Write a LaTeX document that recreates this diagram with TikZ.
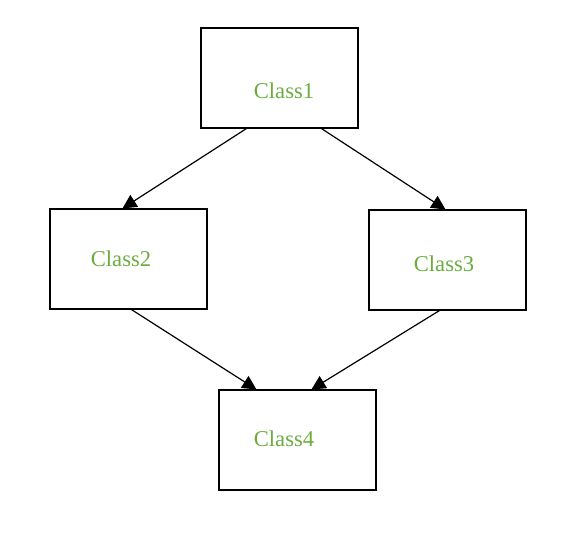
\documentclass[tikz,border=0pt]{standalone}
\usepackage{fontspec}
\setmainfont{Liberation Serif}
\usetikzlibrary{arrows.meta,calc}
\definecolor{lbl}{RGB}{106,173,62}
\begin{document}
\begin{tikzpicture}[x=1pt,y=-1pt,
  cls/.style={draw,line width=1.1pt,minimum width=157pt,minimum height=100pt,inner sep=0pt},
  lab/.style={text=lbl,font=\fontsize{22.6}{26}\selectfont,anchor=center,inner sep=0pt},
  arr/.style={line width=1.2pt,-{Triangle[length=14pt,width=14pt]}}]
\useasboundingbox (0,0) rectangle (587,536);
\node[cls] (c1) at (279.5,78) {};
\node[cls] (c2) at (128.5,259) {};
\node[cls] (c3) at (447.5,260) {};
\node[cls] (c4) at (297.5,440) {};
\node[lab] (t1) at (284,91) {Class1};
\node[lab] (t2) at (121,259) {Class2};
\node[lab] (t3) at (444,264) {Class3};
\node[lab] (t4) at (284,439) {Class4};
\draw[arr] ($(c1.south west)+(46,0)$) -- ($(c2.north west)+(73,0)$);
\draw[arr] ($(c1.south west)+(121,0)$) -- ($(c3.north west)+(77,0)$);
\draw[arr] ($(c2.south west)+(82,0)$) -- ($(c4.north west)+(38,0)$);
\draw[arr] ($(c3.south west)+(71,0)$) -- ($(c4.north west)+(93,0)$);
\end{tikzpicture}
\end{document}
